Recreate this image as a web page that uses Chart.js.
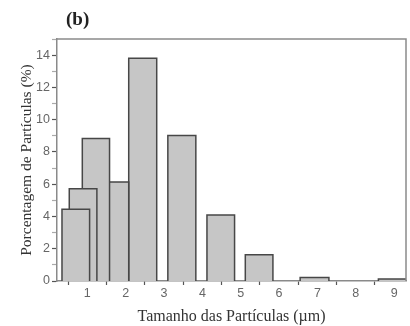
<!DOCTYPE html>
<html>
<head>
<meta charset="utf-8">
<script src="https://cdn.jsdelivr.net/npm/chart.js@4/dist/chart.umd.min.js"></script>
<style>
  html, body { margin: 0; padding: 0; background: #fff; }
  #wrap { width: 410px; height: 326px; }
</style>
</head>
<body>
<div id="wrap"><canvas id="hist"></canvas></div>
<script>
// bins (µm) and their percentages
const binLeft  = [0.34, 0.53, 0.87, 1.36, 2.08, 3.10, 4.12, 5.12, 6.55, 8.59];
const binRight = [1.06, 1.25, 1.58, 2.08, 2.81, 3.83, 4.84, 5.84, 7.30, 9.33];
const percent  = [4.44, 5.72, 8.84, 6.13, 13.8, 9.02, 4.09, 1.63, 0.22, 0.12];

const xLabels = [1, 2, 3, 4, 5, 6, 7, 8, 9];
const yLabels = [0, 2, 4, 6, 8, 10, 12, 14];

const tickFont = { family: 'Liberation Sans', size: 12.5 };
const serifFont = { family: 'Liberation Serif', size: 15.5 };

// each bin becomes a closed step outline filled to zero
const datasets = percent.map((p, i) => ({
  data: [
    {x: binLeft[i], y: 0},
    {x: binLeft[i], y: p},
    {x: binRight[i], y: p},
    {x: binRight[i], y: 0},
  ],
  showLine: true,
  fill: 'origin',
  backgroundColor: '#c6c6c6',
  borderColor: '#474747',
  borderWidth: 1.5,
  pointRadius: 0,
  tension: 0,
}));

// frame round the plot + the "(b)" tag
const framePlugin = {
  id: 'frame',
  afterDraw(chart) {
    const {ctx, chartArea: a} = chart;
    ctx.save();
    ctx.strokeStyle = '#8a8a8a';
    ctx.lineWidth = 1.5;
    ctx.beginPath();
    ctx.moveTo(a.left, a.top);
    ctx.lineTo(a.right, a.top);
    ctx.lineTo(a.right, a.bottom);
    ctx.stroke();
    ctx.fillStyle = '#222';
    ctx.font = 'bold 19px "Liberation Serif"';
    ctx.textBaseline = 'middle';
    ctx.fillText('(b)', 66, 20);
    ctx.restore();
  }
};

new Chart(document.getElementById('hist'), {
  type: 'scatter',
  data: { datasets: datasets },
  plugins: [framePlugin],
  options: {
    responsive: true,
    maintainAspectRatio: false,
    animation: false,
    layout: { padding: { top: 39, right: 4, left: 0, bottom: 0 } },
    plugins: {
      legend: { display: false },
      tooltip: { enabled: false },
    },
    scales: {
      x: {
        type: 'linear',
        min: 0.21,
        max: 9.31,
        afterFit: (s) => { s.height = 45; },
        border: { display: true, color: '#8a8a8a', width: 1.5 },
        grid: {
          drawOnChartArea: false,
          tickLength: 4,
          tickWidth: 1.2,
          tickColor: (c) => (c.tick && Number.isInteger(c.tick.value)) ? 'rgba(0,0,0,0)' : '#555',
        },
        ticks: {
          stepSize: 0.5,
          includeBounds: false,
          autoSkip: false,
          maxRotation: 0,
          padding: 1,
          color: '#666',
          font: tickFont,
          callback: (v) => xLabels.includes(v) ? String(v) : '',
        },
        title: {
          display: true,
          text: 'Tamanho das Partículas (µm)',
          color: '#333',
          font: { family: 'Liberation Serif', size: 16 },
          padding: { top: 6, bottom: 0 },
        },
      },
      y: {
        min: 0,
        max: 15,
        afterFit: (s) => { s.width = 57; },
        border: { display: true, color: '#8a8a8a', width: 1.5 },
        grid: {
          drawOnChartArea: false,
          tickLength: 5,
          tickWidth: 1.2,
          tickColor: (c) => (c.tick && yLabels.includes(c.tick.value)) ? '#555' : '#aaa',
        },
        ticks: {
          stepSize: 1,
          autoSkip: false,
          padding: 2,
          color: '#666',
          font: tickFont,
          callback: (v) => yLabels.includes(v) ? String(v) : '',
        },
        title: {
          display: true,
          text: 'Porcentagem de Partículas (%)',
          color: '#333',
          font: serifFont,
          padding: { top: 18, bottom: 0 },
        },
      },
    },
  },
});
</script>
</body>
</html>
